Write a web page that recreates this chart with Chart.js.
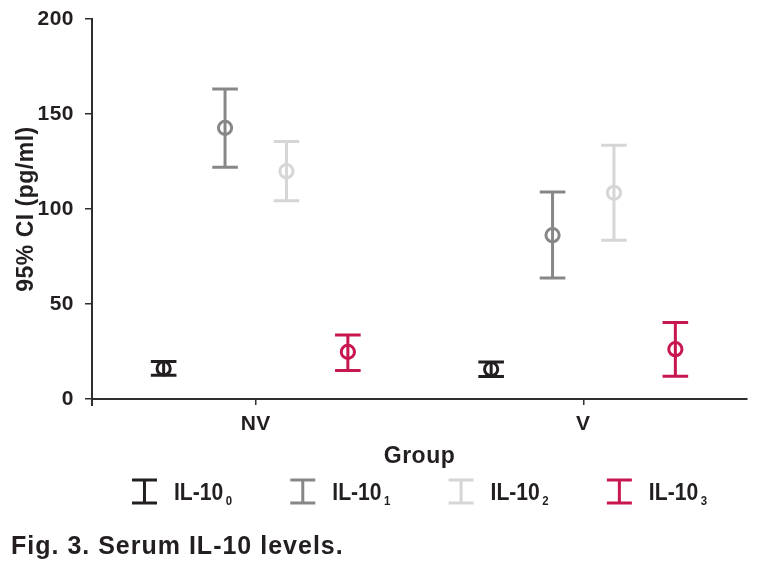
<!DOCTYPE html>
<html>
<head>
<meta charset="utf-8">
<script src="https://cdn.jsdelivr.net/npm/chart.js@4/dist/chart.umd.min.js"></script>
<style>
html,body{margin:0;padding:0;background:#fff;}
#wrap{position:relative;width:758px;height:578px;}
</style>
</head>
<body>
<div id="wrap"><canvas id="c" width="758" height="578"></canvas></div>
<script>
// ---- data ----
const groups = ['NV', 'V'];
const seriesNames = ['IL-10', 'IL-10', 'IL-10', 'IL-10'];
const seriesSubs = ['0', '1', '2', '3'];
const yTicks = [0, 50, 100, 150, 200];

const il10_0_mean = [16.1, 15.7];
const il10_0_low  = [12.5, 11.8];
const il10_0_high = [19.7, 19.5];

const il10_1_mean = [142.7, 86.2];
const il10_1_low  = [122.0, 63.7];
const il10_1_high = [163.1, 109.0];

const il10_2_mean = [119.9, 108.5];
const il10_2_low  = [104.3, 83.6];
const il10_2_high = [135.5, 133.6];

const il10_3_mean = [24.8, 26.2];
const il10_3_low  = [15.0, 12.0];
const il10_3_high = [33.7, 40.3];

const seriesColors = ['#231f20', '#878787', '#d6d6d6', '#c8164f'];

const yTitle = '95% CI (pg/ml)';
const xTitle = 'Group';
const caption = 'Fig. 3. Serum IL-10 levels.';

// ---- build ----
const means = [il10_0_mean, il10_1_mean, il10_2_mean, il10_3_mean];
const lows  = [il10_0_low,  il10_1_low,  il10_2_low,  il10_3_low];
const highs = [il10_0_high, il10_1_high, il10_2_high, il10_3_high];

const TXT = '#231f20';
const AX = '#2e2e2e';
const FONT = '"Liberation Sans", Arial, Helvetica, sans-serif';

const datasets = seriesNames.map((name, i) => ({
  label: name + seriesSubs[i],
  data: lows[i].map((l, j) => [l, highs[i][j]]),
  backgroundColor: 'rgba(0,0,0,0)',
  borderWidth: 0,
  categoryPercentage: 0.75,
  barPercentage: 1.0
}));

const spacingPlugin = {
  id: 'spacing',
  beforeDraw(chart) {
    chart.ctx.letterSpacing = '0.5px';
  }
};

const errorBarPlugin = {
  id: 'errorBars',
  afterDatasetsDraw(chart) {
    const ctx = chart.ctx;
    const ys = chart.scales.y;
    ctx.save();
    ctx.lineWidth = 3;
    ctx.lineCap = 'butt';
    chart.data.datasets.forEach((ds, i) => {
      const meta = chart.getDatasetMeta(i);
      meta.data.forEach((el, j) => {
        const x = el.x;
        const yl = ys.getPixelForValue(lows[i][j]);
        const yh = ys.getPixelForValue(highs[i][j]);
        const ym = ys.getPixelForValue(means[i][j]);
        ctx.strokeStyle = seriesColors[i];
        ctx.beginPath();
        ctx.moveTo(x, yh); ctx.lineTo(x, yl);
        ctx.moveTo(x - 12.8, yh); ctx.lineTo(x + 12.8, yh);
        ctx.moveTo(x - 12.8, yl); ctx.lineTo(x + 12.8, yl);
        ctx.stroke();
        ctx.beginPath();
        ctx.arc(x, ym, 6.6, 0, Math.PI * 2);
        ctx.stroke();
      });
    });
    ctx.restore();
  }
};

const decorPlugin = {
  id: 'decor',
  afterDraw(chart) {
    const ctx = chart.ctx;
    const ca = chart.chartArea;
    ctx.save();
    // y-axis stub below x-axis
    ctx.strokeStyle = AX;
    ctx.lineWidth = 2;
    ctx.beginPath();
    ctx.moveTo(ca.left, ca.bottom);
    ctx.lineTo(ca.left, ca.bottom + 7);
    ctx.stroke();

    // legend
    const step = 158.3;
    const n = seriesNames.length;
    ctx.letterSpacing = '0px';
    const mainFont = 'bold 24px ' + FONT;
    const subFont = 'bold 13px ' + FONT;
    const sx = 0.88;
    const gap = 2.5;
    ctx.font = mainFont;
    const mainW = ctx.measureText(seriesNames[n - 1]).width * sx;
    ctx.font = subFont;
    const subW = ctx.measureText(seriesSubs[n - 1]).width * sx;
    const itemW = 42 + mainW + gap + subW;
    const blockW = step * (n - 1) + itemW;
    const left0 = (ca.left + ca.right) / 2 - blockW / 2;
    const iconTop = 480, iconBot = 503, base = 500;
    for (let i = 0; i < n; i++) {
      const lx = left0 + i * step;
      const cx = lx + 12.5;
      ctx.strokeStyle = seriesColors[i];
      ctx.lineWidth = 3;
      ctx.beginPath();
      ctx.moveTo(cx, iconTop); ctx.lineTo(cx, iconBot);
      ctx.moveTo(cx - 12.5, iconTop); ctx.lineTo(cx + 12.5, iconTop);
      ctx.moveTo(cx - 12.5, iconBot); ctx.lineTo(cx + 12.5, iconBot);
      ctx.stroke();
      ctx.fillStyle = TXT;
      ctx.textBaseline = 'alphabetic';
      ctx.textAlign = 'left';
      const tx = lx + 42;
      ctx.save();
      ctx.translate(tx, base);
      ctx.scale(sx, 1);
      ctx.font = mainFont;
      ctx.fillText(seriesNames[i], 0, 0);
      const w = ctx.measureText(seriesNames[i]).width;
      ctx.font = subFont;
      ctx.fillText(seriesSubs[i], w + gap / sx, 5);
      ctx.restore();
    }

    // caption
    ctx.letterSpacing = '1px';
    ctx.font = 'bold 25px ' + FONT;
    ctx.fillStyle = TXT;
    ctx.textAlign = 'left';
    ctx.textBaseline = 'alphabetic';
    ctx.fillText(caption, 11, 554);
    ctx.restore();
  }
};

new Chart(document.getElementById('c'), {
  type: 'bar',
  data: { labels: groups, datasets },
  options: {
    responsive: false,
    animation: false,
    devicePixelRatio: 1,
    layout: { padding: { top: 19, right: 11, bottom: 108, left: 0 } },
    plugins: { legend: { display: false }, tooltip: { enabled: false } },
    scales: {
      x: {
        type: 'category',
        offset: true,
        grid: { display: true, drawOnChartArea: false, drawTicks: true, tickLength: 6, offset: false, color: AX, lineWidth: 1.5 },
        border: { display: true, color: AX, width: 2 },
        ticks: { color: TXT, font: { family: FONT, size: 21, weight: 'bold' }, padding: 7 },
        title: { display: true, text: xTitle, color: TXT, font: { family: FONT, size: 23, weight: 'bold' }, padding: 0 },
        afterFit(s) { s.height = 71; s.paddingLeft = 0; s.paddingRight = 0; }
      },
      y: {
        min: 0, max: 200,
        afterBuildTicks(s) { s.ticks = yTicks.map(v => ({ value: v })); },
        grid: { display: true, drawOnChartArea: false, drawTicks: true, tickLength: 7, color: AX, lineWidth: 1.5 },
        border: { display: true, color: AX, width: 2 },
        ticks: { color: TXT, font: { family: FONT, size: 21, weight: 'bold' }, padding: 11 },
        title: { display: true, text: yTitle, color: TXT, font: { family: FONT, size: 23, weight: 'bold' }, padding: { top: 13, bottom: 0 } },
        afterFit(s) { s.width = 92; s.paddingTop = 0; s.paddingBottom = 0; }
      }
    }
  },
  plugins: [spacingPlugin, errorBarPlugin, decorPlugin]
});
</script>
</body>
</html>
